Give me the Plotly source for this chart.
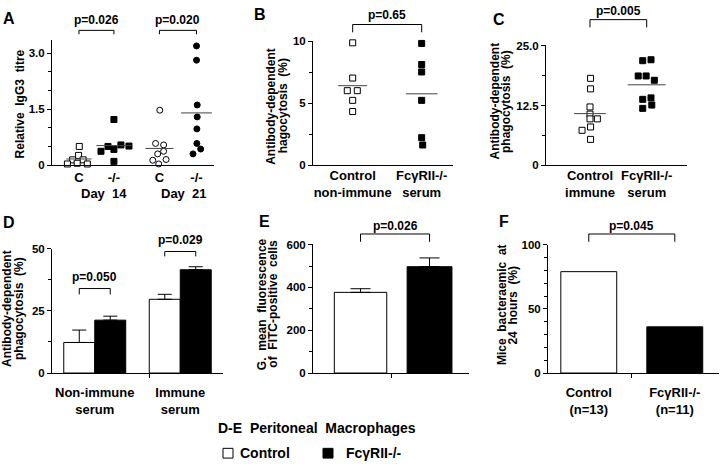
import numpy as np
import plotly.graph_objects as go

W, H = 720, 467
FONT = "Liberation Sans"

# ---------------- data ----------------
# Panel A : relative IgG3 titre (dot plot)
a_ticklabels = ["C", "-/-", "C", "-/-"]
a_pos = [1.0, 2.0, 3.3, 4.36]
a_c14 = [0.50, 0.26, 0.14, 0.14, 0.03, 0.05, 0.03]
a_c14_off = [0.01, -0.01, -0.18, 0.12, -0.33, -0.05, 0.24]
a_ko14 = [1.22, 0.37, 0.50, 0.42, 0.54, 0.51, 0.10]
a_ko14_off = [0.0, -0.37, -0.17, 0.0, 0.20, 0.43, 0.0]
a_c21 = [1.47, 0.58, 0.54, 0.30, 0.37, 0.13, 0.15, 0.03]
a_c21_off = [0.01, -0.11, 0.12, -0.05, 0.12, -0.19, 0.19, -0.02]
a_ko21 = [3.19, 2.81, 1.61, 1.29, 0.97, 0.58, 0.43, 0.30]
a_ko21_off = [0.0, 0.0, 0.02, 0.02, 0.01, 0.01, 0.12, -0.10]
a_pvals = ["p=0.026", "p=0.020"]

# Panel B : antibody-dependent phagocytosis, non-immune serum
b_ticklabels = ["Control<br>non-immune", "FcγRII-/-<br>serum"]
b_ctrl = [9.86, 7.02, 6.0, 6.0, 5.22, 4.32]
b_ctrl_off = [0.0, 0.0, -0.078, 0.067, 0.0, 0.0]
b_ko = [9.81, 8.11, 7.51, 5.22, 2.21, 1.62]
b_ko_off = [0.0, 0.0, 0.0, 0.0, 0.0, 0.015]
b_pval = "p=0.65"

# Panel C : antibody-dependent phagocytosis, immune serum
c_ticklabels = ["Control<br>immune", "FcγRII-/-<br>serum"]
c_ctrl = [18.2, 16.0, 12.2, 10.7, 9.7, 9.7, 8.0, 7.3, 5.4]
c_ctrl_off = [0.01, 0.01, 0.0, 0.0, 0.0, 0.13, 0.01, -0.14, 0.01]
c_ko = [21.9, 22.1, 18.7, 18.7, 17.8, 13.8, 14.1, 11.9, 12.6]
c_ko_off = [-0.07, 0.076, -0.15, -0.01, 0.135, -0.07, 0.076, -0.07, 0.09]
c_pval = "p=0.005"

# Panel D : peritoneal macrophages phagocytosis (bars)
d_ticklabels = ["Non-immune<br>serum", "Immune<br>serum"]
d_ctrl = [12.3, 29.7]
d_ctrl_err = [5.0, 2.0]
d_ko = [21.3, 41.6]
d_ko_err = [1.6, 1.2]
d_pvals = ["p=0.050", "p=0.029"]

# Panel E : G. mean fluorescence
e_vals = [377, 497]
e_err = [17, 41]
e_pval = "p=0.026"

# Panel F : mice bacteraemic at 24 h
f_ticklabels = ["Control<br>(n=13)", "FcγRII-/-<br>(n=11)"]
f_vals = [79, 36]
f_pval = "p=0.045"

# ---------------- helpers ----------------
fig = go.Figure()
layout = dict(width=W, height=H, margin=dict(l=0, r=0, t=0, b=0),
              paper_bgcolor="white", plot_bgcolor="white", showlegend=False,
              font=dict(family=FONT, size=12, color="black", weight="bold"),
              annotations=[], shapes=[])

AX = {}


def add_axes(n, xd, yd, xr, yr, yticks, yticktext, yminor, xtickvals=None,
             xticktext=None, xminor=None, xstand=0):
    """xd: (left px, right px); yd: (top px, bottom px)"""
    sx = "" if n == 1 else str(n)
    AX[n] = dict(xd=xd, yd=yd, xr=xr, yr=yr)
    xa = dict(domain=[xd[0] / W, xd[1] / W], range=xr, anchor="y" + sx,
              showline=True, linecolor="black", linewidth=1, showgrid=False,
              zeroline=False, ticks="", ticklen=0, fixedrange=True,
              tickfont=dict(size=13, family=FONT, weight="bold"),
              ticklabelstandoff=xstand)
    if xtickvals is not None:
        xa.update(tickmode="array", tickvals=xtickvals, ticktext=xticktext)
    else:
        xa.update(showticklabels=False)
    if xminor is not None:
        xa["minor"] = dict(tickmode="array", tickvals=xminor, ticks="outside",
                           ticklen=4, tickcolor="black", showgrid=False)
    ya = dict(domain=[1 - yd[1] / H, 1 - yd[0] / H], range=yr,
              anchor="x" + sx, showline=True, linecolor="black", linewidth=1,
              showgrid=False, zeroline=False, ticks="outside", ticklen=4,
              tickcolor="black", tickmode="array", tickvals=yticks,
              ticktext=yticktext, fixedrange=True,
              tickfont=dict(size=11.5, family=FONT, weight="bold"),
              minor=dict(dtick=yminor, ticks="outside", ticklen=3,
                         tickcolor="black", showgrid=False))
    layout["xaxis" + sx] = xa
    layout["yaxis" + sx] = ya
    return "x" + sx, "y" + sx


def xpx(n, x):
    a = AX[n]
    return a["xd"][0] + (x - a["xr"][0]) / (a["xr"][1] - a["xr"][0]) * (a["xd"][1] - a["xd"][0])


def ann(text, x, y, size=12, angle=0, xanchor="center"):
    layout["annotations"].append(dict(
        text=text, x=x / W, y=1 - y / H, xref="paper", yref="paper",
        showarrow=False, textangle=angle, xanchor=xanchor, yanchor="middle",
        font=dict(size=size, family=FONT, color="black", weight="bold")))


def bracket(n, x1, x2, ytop, ybot, label, ylab):
    p1, p2 = xpx(n, x1), xpx(n, x2)
    layout["shapes"].append(dict(
        type="path", xref="paper", yref="paper",
        path=f"M {p1 / W},{1 - ybot / H} L {p1 / W},{1 - ytop / H} "
             f"L {p2 / W},{1 - ytop / H} L {p2 / W},{1 - ybot / H}",
        line=dict(color="black", width=1)))
    ann(label, (p1 + p2) / 2, ylab, size=12)


def dots(xa, ya, pos, vals, offs, symbol, filled, halfw):
    fig.add_trace(go.Scatter(
        x=[pos + o for o in offs], y=vals, xaxis=xa, yaxis=ya, mode="markers",
        cliponaxis=False,
        marker=dict(symbol=symbol, size=6, color="black" if filled else "white",
                    line=dict(color="black", width=1))))
    m = float(np.mean(vals))
    fig.add_trace(go.Scatter(x=[pos - halfw, pos + halfw], y=[m, m], xaxis=xa,
                             yaxis=ya, mode="lines", cliponaxis=False,
                             line=dict(color="#444", width=1)))


# ---------------- Panel A ----------------
xa, ya = add_axes(1, (52, 214), (35, 163.3), [0.23, 4.86], [0, 3.347],
                  [0, 1.5, 3.0], ["0", "1.5", "3.0"], 0.5,
                  xtickvals=a_pos, xticktext=a_ticklabels, xstand=0)
a_sets = [(a_c14, a_c14_off, "square", False, 0.36),
          (a_ko14, a_ko14_off, "square", True, 0.5),
          (a_c21, a_c21_off, "circle", False, 0.4),
          (a_ko21, a_ko21_off, "circle", True, 0.44)]
for p, (v, o, s, f, hw) in zip(a_pos, a_sets):
    dots(xa, ya, p, v, o, s, f, hw)
bracket(1, a_pos[0], a_pos[1], 25, 29, a_pvals[0], 14)
bracket(1, a_pos[2], a_pos[3], 25, 29, a_pvals[1], 14)
ann("Day  14", 104, 192, 13)
ann("Day  21", 184, 192, 13)
ann("Relative  IgG3  titre", 20, 101, 12, -90)
ann("A", 9, 13, 16)

# ---------------- Panel B ----------------
xb, yb = add_axes(2, (313, 453), (36, 163.3), [-0.575, 1.454], [0, 10],
                  [0, 5, 10], ["0", "5", "10"], 2.5,
                  xtickvals=[0, 1], xticktext=b_ticklabels, xstand=-2)
dots(xb, yb, 0, b_ctrl, b_ctrl_off, "square", False, 0.21)
dots(xb, yb, 1, b_ko, b_ko_off, "square", True, 0.23)
bracket(2, 0, 1, 19, 27, b_pval, 9)
ann("Antibody-dependent", 271.5, 103, 12, -90)
ann("hagocytosis  (%)", 283, 103, 12, -90)
ann("B", 260, 9, 16)

# ---------------- Panel C ----------------
xc, yc = add_axes(3, (546, 687), (40, 163.3), [-0.776, 1.711], [0, 25.2],
                  [0, 12.5, 25.0], ["0", "12.5", "25.0"], 6.25,
                  xtickvals=[0, 1], xticktext=c_ticklabels, xstand=-2)
dots(xc, yc, 0, c_ctrl, c_ctrl_off, "square", False, 0.28)
dots(xc, yc, 1, c_ko, c_ko_off, "square", True, 0.335)
bracket(3, 0, 1, 14, 22, c_pval, 5)
ann("Antibody-dependent", 495, 98, 12, -90)
ann("phagocytosis  (%)", 506.5, 98, 12, -90)
ann("C", 499, 14, 16)

# ---------------- Panel D ----------------
d_gap = 0.275
xd_, yd_ = add_axes(4, (52, 223), (249.3, 376.7), [-0.5, 1.5], [0, 50],
                    [0, 25, 50], ["0", "25", "50"], 12.5,
                    xtickvals=[0, 1], xticktext=d_ticklabels, xminor=[0.64],
                    xstand=7)
err_style = dict(type="data", symmetric=False, color="black", thickness=1, width=7)
fig.add_trace(go.Bar(x=[0, 1], y=d_ctrl, xaxis=xd_, yaxis=yd_,
                     marker=dict(color="white", line=dict(color="black", width=1)),
                     error_y=dict(array=d_ctrl_err, arrayminus=[0, 0], **err_style)))
fig.add_trace(go.Bar(x=[0, 1], y=d_ko, xaxis=xd_, yaxis=yd_,
                     marker=dict(color="black", line=dict(color="black", width=1)),
                     error_y=dict(array=d_ko_err, arrayminus=[0, 0], **err_style)))
off = (1 - d_gap) / 4
bracket(4, 0 - off, 0 + off, 290, 296, d_pvals[0], 278)
bracket(4, 1 - off, 1 + off, 252, 257, d_pvals[1], 240)
ann("Antibody-dependent", 7, 311, 12, -90)
ann("phagocytosis  (%)", 19, 311, 12, -90)
ann("D", 9, 222, 16)

# ---------------- Panel E ----------------
xe, ye = add_axes(5, (313, 469), (244.3, 376.7), [-0.689, 1.572], [0, 603],
                  [0, 200, 400, 600], ["0", "200", "400", "600"], 100,
                  xminor=[0.45])
fig.add_trace(go.Bar(x=[0, 1], y=e_vals, xaxis=xe, yaxis=ye, width=[0.76, 0.65],
                     marker=dict(color=["white", "black"],
                                 line=dict(color="black", width=1)),
                     error_y=dict(array=e_err, arrayminus=[0, 0], type="data",
                                  symmetric=False, color="black", thickness=1,
                                  width=10)))
bracket(5, 0, 1, 234, 242, e_pval, 226)
ann("G.  mean  fluorescence", 262, 306, 12, -90)
ann("of  FITC-positive  cells", 273.5, 306, 12, -90)
ann("E", 264, 221, 16)

# ---------------- Panel F ----------------
xf, yf = add_axes(6, (548, 719), (245, 376.7), [-0.474, 1.514], [0, 100],
                  [0, 50, 100], ["0", "50", "100"], 10,
                  xtickvals=[0, 1], xticktext=f_ticklabels, xminor=[0.5],
                  xstand=7)
fig.add_trace(go.Bar(x=[0, 1], y=f_vals, xaxis=xf, yaxis=yf, width=0.65,
                     marker=dict(color=["white", "black"],
                                 line=dict(color="black", width=1))))
bracket(6, 0, 1, 234, 242, f_pval, 226)
ann("Mice  bacteraemic  at", 502, 307, 12, -90)
ann("24  hours  (%)", 513.5, 307, 12, -90)
ann("F", 504, 221, 16)

# ---------------- bottom key ----------------
ann("D-E  Peritoneal  Macrophages", 317, 433, 14)
layout["shapes"].append(dict(type="rect", xref="paper", yref="paper",
                             x0=223 / W, x1=233 / W, y0=1 - 464 / H, y1=1 - 454 / H,
                             line=dict(color="black", width=1), fillcolor="white"))
ann("Control", 238, 459, 14, xanchor="left")
layout["shapes"].append(dict(type="rect", xref="paper", yref="paper",
                             x0=323 / W, x1=333 / W, y0=1 - 464 / H, y1=1 - 454 / H,
                             line=dict(color="black", width=1), fillcolor="black"))
ann("FcγRII-/-", 344, 459, 14, xanchor="left")

layout["barmode"] = "group"
layout["bargap"] = d_gap
layout["bargroupgap"] = 0
fig.update_layout(**layout)
fig.write_html("out.html",
               config={"displayModeBar": False, "staticPlot": True},
               post_script="document.body.style.margin='0px';"
                           "document.body.style.padding='0px';")
